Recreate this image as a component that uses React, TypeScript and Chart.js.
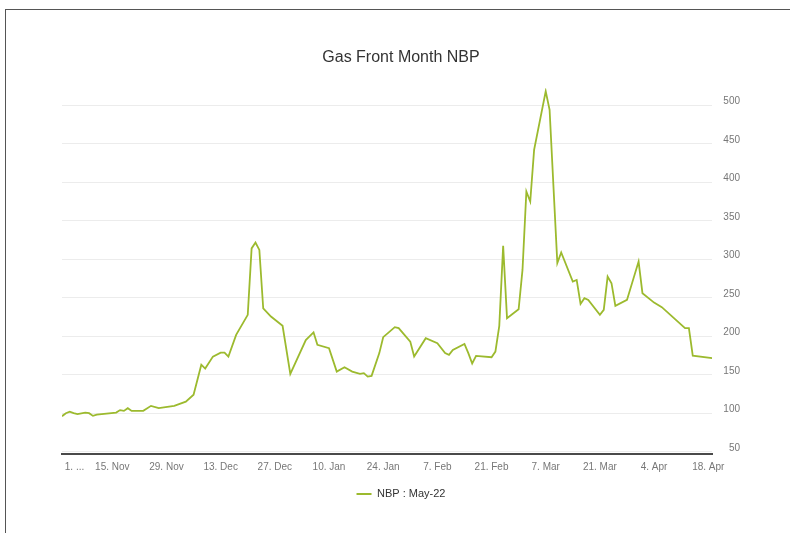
import { useEffect, useRef } from "react";
import { Chart, registerables } from "chart.js";

Chart.register(...registerables);

const chartTitle = "Gas Front Month NBP";
const seriesName = "NBP : May-22";

const dates = [
  "2021-11-02", "2021-11-03", "2021-11-04", "2021-11-05", "2021-11-06", "2021-11-08",
  "2021-11-09", "2021-11-10", "2021-11-11", "2021-11-16", "2021-11-17", "2021-11-18",
  "2021-11-19", "2021-11-20", "2021-11-23", "2021-11-25", "2021-11-27", "2021-12-01",
  "2021-12-04", "2021-12-06", "2021-12-08", "2021-12-09", "2021-12-11", "2021-12-13",
  "2021-12-14", "2021-12-15", "2021-12-17", "2021-12-20", "2021-12-21", "2021-12-22",
  "2021-12-23", "2021-12-24", "2021-12-26", "2021-12-29", "2021-12-31", "2022-01-04",
  "2022-01-06", "2022-01-07", "2022-01-10", "2022-01-12", "2022-01-14", "2022-01-16",
  "2022-01-18", "2022-01-19", "2022-01-20", "2022-01-21", "2022-01-23", "2022-01-24",
  "2022-01-27", "2022-01-28", "2022-01-31", "2022-02-01", "2022-02-04", "2022-02-07",
  "2022-02-09", "2022-02-10", "2022-02-11", "2022-02-14", "2022-02-15", "2022-02-16",
  "2022-02-17", "2022-02-21", "2022-02-22", "2022-02-23", "2022-02-24", "2022-02-25",
  "2022-02-28", "2022-03-01", "2022-03-02", "2022-03-03", "2022-03-04", "2022-03-07",
  "2022-03-08", "2022-03-10", "2022-03-11", "2022-03-14", "2022-03-15", "2022-03-16",
  "2022-03-17", "2022-03-18", "2022-03-21", "2022-03-22", "2022-03-23", "2022-03-24",
  "2022-03-25", "2022-03-28", "2022-03-31", "2022-04-01", "2022-04-04", "2022-04-06",
  "2022-04-12", "2022-04-13", "2022-04-14", "2022-04-19",
];

const prices = [
  96, 100, 102, 100, 98.7, 100.8,
  100, 96.5, 98, 100.8, 104, 103,
  106.5, 103, 103, 109.5, 106.5, 109.5,
  115, 124, 163, 158, 173.5, 178.7,
  178.7, 173.5, 201.7, 227.7, 314, 321.6,
  312, 236, 225.5, 213.4, 151, 195,
  205, 188.7, 184.4, 154, 159.7, 154,
  151, 152, 147.5, 148.4, 178, 198.7,
  211.7, 210.4, 193, 173.5, 197.4, 190.9,
  178, 175.7, 182.2, 190, 178, 164.5,
  174.4, 172.7, 180, 213.4, 317.3, 223.4,
  235, 286, 387.8, 374.8, 442, 518,
  494, 295, 308.6, 270.9, 273, 241.9,
  249.4, 247.1, 227.7, 234.2, 277.4, 268.8,
  239.4, 247.1, 296.9, 255.8, 243.6, 237.7,
  210.4, 210.4, 174.8, 171.4,
];

const tickDates = [
  "2021-11-01", "2021-11-15", "2021-11-29", "2021-12-13", "2021-12-27", "2022-01-10",
  "2022-01-24", "2022-02-07", "2022-02-21", "2022-03-07", "2022-03-21", "2022-04-04",
  "2022-04-18",
];
const tickLabels = [
  "1. ...", "15. Nov", "29. Nov", "13. Dec", "27. Dec", "10. Jan",
  "24. Jan", "7. Feb", "21. Feb", "7. Mar", "21. Mar", "4. Apr",
  "18. Apr",
];

const yTicks = [50, 100, 150, 200, 250, 300, 350, 400, 450, 500];
const yMin = 47;
const yMax = 522;

const DAY = 86400000;
const BASE = Date.UTC(2021, 10, 1);
const toDay = (s: string) => {
  const [y, m, d] = s.split("-").map(Number);
  return (Date.UTC(y, m - 1, d) - BASE) / DAY;
};

const FONT = "'Liberation Sans', Arial, Helvetica, sans-serif";
const LINE = "#9cba2e";

export default function App() {
  const ref = useRef<HTMLCanvasElement | null>(null);

  useEffect(() => {
    if (!ref.current) return;
    const points = dates.map((d, i) => ({ x: toDay(d), y: prices[i] }));
    const xMin = points[0].x;
    const xMax = points[points.length - 1].x;

    const chart = new Chart(ref.current, {
      type: "line",
      data: {
        datasets: [
          {
            label: seriesName,
            data: points,
            borderColor: LINE,
            backgroundColor: LINE,
            borderWidth: 1.8,
            pointRadius: 0,
            tension: 0,
            fill: false,
          },
        ],
      },
      options: {
        animation: false,
        responsive: false,
        maintainAspectRatio: false,
        layout: { padding: { left: 62, right: 50, top: 38, bottom: 23.5 } },
        plugins: {
          title: {
            display: true,
            text: chartTitle,
            color: "#333333",
            font: { family: FONT, size: 16, weight: "normal" },
            padding: { top: 10, bottom: 21 },
          },
          legend: {
            position: "bottom",
            labels: {
              usePointStyle: true,
              pointStyle: "line",
              pointStyleWidth: 15,
              color: "#333333",
              font: { family: FONT, size: 11 },
              padding: 8.5,
            },
          },
          tooltip: { enabled: false },
        },
        scales: {
          x: {
            type: "linear",
            min: xMin,
            max: xMax,
            afterBuildTicks: (axis: any) => {
              axis.ticks = tickDates.map((d) => ({ value: Math.max(toDay(d), xMin) }));
            },
            grid: { display: false, drawTicks: false },
            border: { display: true, color: "#4a4a4a", width: 2 },
            ticks: {
              autoSkip: false,
              maxRotation: 0,
              padding: 7,
              color: "#777777",
              font: { family: FONT, size: 10 },
              callback: (_v: any, i: number) => {
                const label = tickLabels[i];
                if (toDay(tickDates[i]) < xMin) return "         " + label;
                return label;
              },
            },
          },
          y: {
            position: "right",
            min: yMin,
            max: yMax,
            afterBuildTicks: (axis: any) => {
              axis.ticks = yTicks.map((v) => ({ value: v }));
            },
            grid: { color: "#ececec", lineWidth: 1, drawTicks: false },
            border: { display: false },
            ticks: {
              padding: 5.6,
              crossAlign: "far",
              labelOffset: -3.5,
              color: "#777777",
              font: { family: FONT, size: 10 },
            },
          },
        },
      },
    } as any);

    return () => chart.destroy();
  }, []);

  return (
    <div style={{ position: "fixed", left: 0, top: 0, width: 790, height: 533, background: "#ffffff" }}>
      <div
        style={{
          position: "absolute",
          left: 5,
          top: 9,
          width: 800,
          height: 600,
          borderTop: "1px solid #555555",
          borderLeft: "1px solid #555555",
          boxSizing: "border-box",
        }}
      />
      <canvas ref={ref} width={790} height={533} style={{ position: "absolute", left: 0, top: 0, width: 790, height: 533 }} />
    </div>
  );
}
